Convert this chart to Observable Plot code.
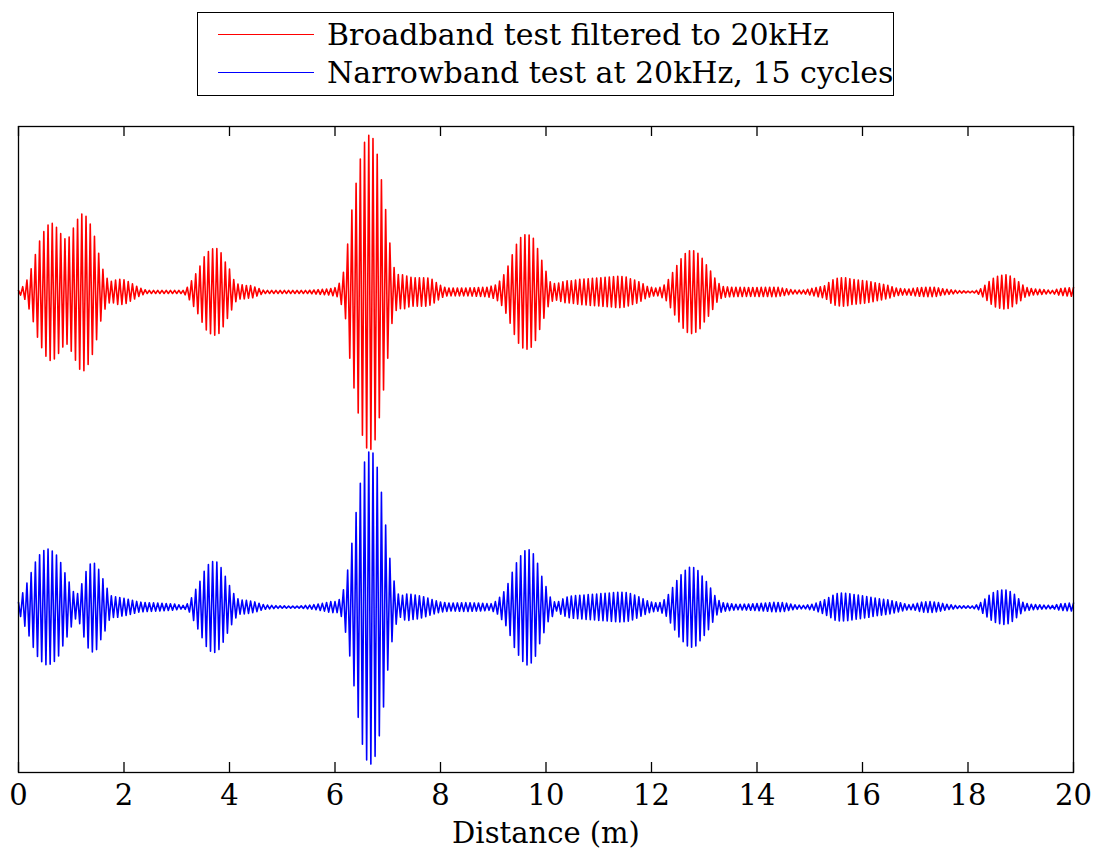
<!DOCTYPE html>
<html>
<head>
<meta charset="utf-8">
<script src="https://cdn.jsdelivr.net/npm/d3@7"></script>
<script src="https://cdn.jsdelivr.net/npm/@observablehq/plot@0.6"></script>
<style>
  body { margin: 0; background: #fff; }
  #wrap { position: relative; width: 1099px; height: 858px; font-family: "DejaVu Serif", serif; }
  #legend { position: absolute; left: 197px; top: 12px; width: 697px; height: 84px; border: 1.3px solid #000; box-sizing: border-box; background: #fff; }
  .sw { position: absolute; left: 20px; width: 96px; height: 0; border-top: 1.5px solid; }
  .lt { position: absolute; left: 129px; font-size: 30px; line-height: 34px; white-space: nowrap; color: #000; }
</style>
</head>
<body>
<div id="wrap"></div>
<script>
// ---- Data ----
const seriesNames = ["Broadband test filtered to 20kHz", "Narrowband test at 20kHz, 15 cycles"];
const seriesColors = ["#ff0000", "#0000ff"];
const seriesOffsets = [1, -1];
const xTicks = [0, 2, 4, 6, 8, 10, 12, 14, 16, 18, 20];
const carrierPeriod = 0.08; // metres per visible oscillation cycle

// envelope [distance (m), peak amplitude] of the broadband (red) trace
const redEnvelope = [
  [0,0.01],[0.04,0.02],[0.13,0.05],[0.215,0.12],[0.29,0.2],[0.37,0.3],[0.46,0.37],[0.54,0.42],[0.62,0.44],
  [0.70,0.42],[0.78,0.38],[0.86,0.34],[0.935,0.33],[1.005,0.38],[1.09,0.44],[1.16,0.49],[1.24,0.5],
  [1.33,0.455],[1.415,0.385],[1.49,0.29],[1.57,0.17],[1.65,0.1],[1.73,0.065],[1.80,0.07],[1.87,0.08],
  [1.95,0.08],[2.03,0.075],[2.11,0.06],[2.19,0.047],[2.27,0.03],[2.34,0.02],[2.44,0.01],[3.13,0.01],
  [3.2,0.03],[3.29,0.075],[3.37,0.12],[3.45,0.17],[3.53,0.23],[3.61,0.26],[3.69,0.275],[3.77,0.275],
  [3.85,0.245],[3.92,0.19],[4.01,0.14],[4.09,0.07],[4.18,0.045],[4.26,0.045],[4.34,0.04],[4.42,0.04],
  [4.49,0.03],[4.57,0.02],[4.65,0.01],[5.16,0.01],[5.5,0.01],[5.9,0.02],[6.04,0.03],[6.12,0.08],
  [6.2,0.17],[6.26,0.37],[6.34,0.57],[6.43,0.75],[6.51,0.9],[6.6,0.99],[6.69,1.0],[6.77,0.93],
  [6.85,0.78],[6.93,0.6],[7.0,0.42],[7.08,0.2],[7.15,0.12],[7.23,0.105],[7.3,0.11],[7.4,0.095],
  [7.49,0.09],[7.62,0.09],[7.75,0.09],[7.84,0.08],[7.94,0.055],[8.03,0.035],[8.13,0.025],[8.5,0.025],
  [8.89,0.03],[9.05,0.045],[9.14,0.075],[9.22,0.12],[9.3,0.18],[9.37,0.245],[9.45,0.31],[9.53,0.35],
  [9.61,0.365],[9.69,0.36],[9.76,0.34],[9.83,0.285],[9.91,0.21],[9.99,0.14],[10.07,0.065],[10.18,0.05],
  [10.28,0.06],[10.37,0.07],[10.47,0.07],[10.65,0.08],[10.84,0.085],[11.03,0.09],[11.22,0.095],
  [11.38,0.1],[11.51,0.095],[11.63,0.08],[11.73,0.07],[11.82,0.055],[11.92,0.035],[12.05,0.025],
  [12.14,0.025],[12.27,0.05],[12.35,0.095],[12.43,0.14],[12.52,0.19],[12.6,0.23],[12.69,0.26],
  [12.77,0.265],[12.85,0.255],[12.93,0.23],[13.0,0.19],[13.09,0.15],[13.17,0.105],[13.24,0.065],
  [13.34,0.035],[13.5,0.03],[13.88,0.028],[14.38,0.03],[14.7,0.012],[14.89,0.012],[15.08,0.025],
  [15.3,0.04],[15.39,0.07],[15.49,0.085],[15.58,0.09],[15.68,0.09],[15.8,0.08],[15.93,0.075],
  [16.06,0.07],[16.22,0.06],[16.37,0.05],[16.5,0.04],[16.63,0.025],[16.75,0.02],[16.88,0.018],
  [17.0,0.025],[17.19,0.03],[17.38,0.03],[17.51,0.02],[17.64,0.015],[17.83,0.008],[18.02,0.005],
  [18.14,0.007],[18.24,0.02],[18.33,0.045],[18.43,0.075],[18.52,0.095],[18.62,0.105],[18.71,0.11],
  [18.81,0.1],[18.9,0.08],[19.0,0.055],[19.09,0.03],[19.22,0.02],[19.41,0.015],[19.6,0.01],
  [19.72,0.02],[19.85,0.025],[20.0,0.028]
];

// envelope [distance (m), peak amplitude] of the narrowband (blue) trace
const blueEnvelope = [
  [0,0.03],[0.04,0.06],[0.13,0.13],[0.215,0.195],[0.29,0.265],[0.37,0.32],[0.46,0.355],[0.54,0.37],
  [0.62,0.36],[0.70,0.34],[0.78,0.3],[0.86,0.23],[0.935,0.18],[1.02,0.11],[1.09,0.07],[1.16,0.105],
  [1.24,0.19],[1.32,0.26],[1.40,0.285],[1.48,0.27],[1.57,0.2],[1.65,0.145],[1.73,0.075],[1.81,0.065],
  [1.88,0.065],[1.96,0.057],[2.04,0.053],[2.12,0.047],[2.28,0.032],[2.44,0.028],[2.69,0.025],
  [2.94,0.02],[3.13,0.01],[3.23,0.025],[3.29,0.065],[3.37,0.12],[3.45,0.17],[3.53,0.235],[3.61,0.275],
  [3.69,0.29],[3.77,0.285],[3.85,0.245],[3.92,0.195],[4.01,0.13],[4.09,0.08],[4.18,0.045],[4.34,0.042],
  [4.49,0.032],[4.65,0.015],[4.9,0.008],[5.3,0.006],[5.6,0.015],[5.79,0.025],[5.91,0.035],[6.04,0.035],
  [6.12,0.06],[6.2,0.16],[6.28,0.31],[6.36,0.5],[6.44,0.7],[6.52,0.87],[6.6,0.97],[6.69,1.0],
  [6.77,0.94],[6.85,0.8],[6.93,0.61],[7.0,0.4],[7.08,0.22],[7.17,0.095],[7.24,0.065],[7.3,0.08],
  [7.39,0.085],[7.46,0.08],[7.56,0.075],[7.69,0.065],[7.84,0.047],[8.0,0.032],[8.19,0.025],[8.5,0.028],
  [8.76,0.025],[8.95,0.02],[9.07,0.04],[9.15,0.075],[9.23,0.11],[9.32,0.18],[9.39,0.25],[9.48,0.305],
  [9.57,0.35],[9.65,0.37],[9.74,0.35],[9.82,0.3],[9.9,0.21],[9.99,0.14],[10.07,0.065],[10.12,0.06],
  [10.18,0.02],[10.28,0.045],[10.37,0.06],[10.47,0.07],[10.65,0.075],[10.84,0.08],[11.03,0.085],
  [11.22,0.09],[11.41,0.095],[11.57,0.09],[11.69,0.075],[11.79,0.06],[11.92,0.04],[12.01,0.03],
  [12.14,0.025],[12.27,0.053],[12.35,0.095],[12.43,0.14],[12.52,0.19],[12.6,0.22],[12.69,0.25],
  [12.77,0.255],[12.85,0.245],[12.93,0.21],[13.0,0.18],[13.09,0.14],[13.17,0.09],[13.24,0.05],
  [13.34,0.028],[13.62,0.017],[13.88,0.02],[14.13,0.025],[14.32,0.03],[14.51,0.028],[14.7,0.015],
  [14.89,0.01],[15.08,0.02],[15.24,0.04],[15.36,0.06],[15.49,0.085],[15.61,0.09],[15.74,0.085],
  [15.93,0.075],[16.12,0.065],[16.31,0.053],[16.5,0.045],[16.69,0.03],[16.88,0.015],[17.0,0.02],
  [17.13,0.032],[17.29,0.035],[17.45,0.028],[17.61,0.017],[17.83,0.008],[18.08,0.007],[18.2,0.017],
  [18.3,0.045],[18.4,0.075],[18.49,0.095],[18.58,0.105],[18.68,0.11],[18.77,0.105],[18.87,0.085],
  [18.96,0.053],[19.06,0.025],[19.22,0.017],[19.41,0.013],[19.6,0.01],[19.75,0.02],[19.91,0.025],
  [20.0,0.025]
];

// ---- Build the oscillating traces: alternate crests/troughs following the envelope ----
function envAt(env, d) {
  const i = d3.bisector(p => p[0]).right(env, d);
  if (i <= 0) return env[0][1];
  if (i >= env.length) return env[env.length - 1][1];
  const [d0, a0] = env[i - 1], [d1, a1] = env[i];
  return a0 + (a1 - a0) * (d - d0) / (d1 - d0);
}
function trace(env, offset, name) {
  const half = carrierPeriod / 2;
  const n = Math.round(20 / half);
  const pts = [];
  for (let k = 0; k <= n; k++) {
    const d = k * half;
    const s = (k % 2 === 0) ? 1 : -1;
    pts.push({series: name, d, v: offset + s * envAt(env, d)});
  }
  return pts;
}
const redTrace = trace(redEnvelope, seriesOffsets[0], seriesNames[0]);
const blueTrace = trace(blueEnvelope, seriesOffsets[1], seriesNames[1]);

const W = 1099, H = 858;
const mTop = 126, mBottom = 86, mLeft = 18, mRight = 26;
const innerH = H - mTop - mBottom;

const chart = Plot.plot({
  width: W, height: H,
  marginTop: mTop, marginBottom: mBottom, marginLeft: mLeft, marginRight: mRight,
  style: {fontFamily: "DejaVu Serif, serif", fontSize: "29px", color: "#000", background: "#fff"},
  x: {domain: [0, 20], axis: null},
  y: {domain: [-2.05, 2.05], axis: null},
  marks: [
    Plot.line(redTrace, {x: "d", y: "v", stroke: seriesColors[0], strokeWidth: 1.6}),
    Plot.line(blueTrace, {x: "d", y: "v", stroke: seriesColors[1], strokeWidth: 1.6}),
    Plot.tickX(xTicks, {x: d => d, insetTop: innerH - 10, stroke: "#000", strokeWidth: 1.3}),
    Plot.tickX(xTicks, {x: d => d, insetBottom: innerH - 10, stroke: "#000", strokeWidth: 1.3}),
    Plot.axisX(xTicks, {anchor: "bottom", tickSize: 0, tickPadding: 12, fontSize: 29, label: null}),
    Plot.text(["Distance (m)"], {frameAnchor: "bottom", dy: 61, lineAnchor: "middle", fontSize: 29, fill: "#000"}),
    Plot.frame({stroke: "#000", strokeWidth: 1.3})
  ]
});

const wrap = document.getElementById("wrap");
wrap.appendChild(chart);

const legend = document.createElement("div");
legend.id = "legend";
const rowCenters = [22, 60];
seriesNames.forEach((name, i) => {
  const sw = document.createElement("div");
  sw.className = "sw";
  sw.style.top = (rowCenters[i] - 1) + "px";
  sw.style.borderTopColor = seriesColors[i];
  legend.appendChild(sw);
  const t = document.createElement("div");
  t.className = "lt";
  t.style.top = (rowCenters[i] - 17) + "px";
  t.textContent = name;
  legend.appendChild(t);
});
wrap.appendChild(legend);
</script>
</body>
</html>
